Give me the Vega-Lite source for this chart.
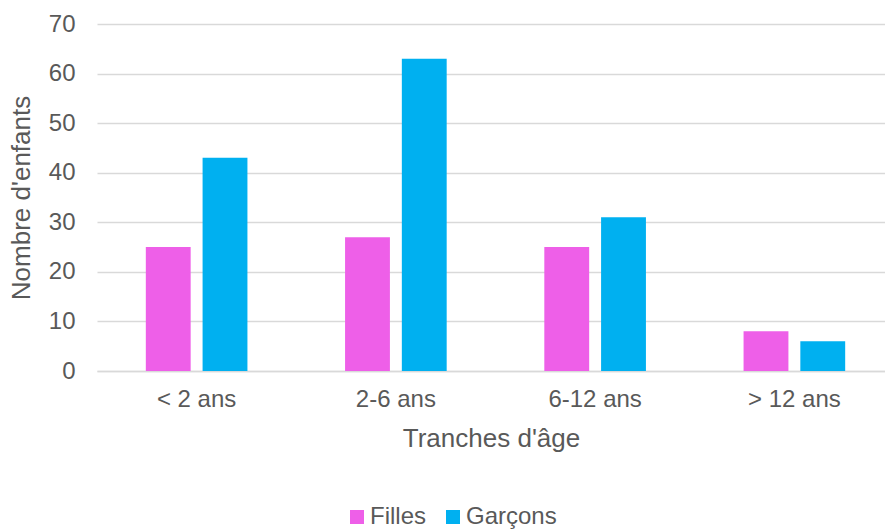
{
  "$schema": "https://vega.github.io/schema/vega-lite/v6.json",
  "width": 797,
  "height": 347,
  "autosize": {"type": "none"},
  "padding": {"left": 97, "top": 24, "right": 0, "bottom": 160},
  "background": "white",
  "config": {
    "font": "Liberation Sans",
    "view": {"stroke": null},
    "axis": {"labelColor": "#595959", "titleColor": "#595959", "labelFont": "Liberation Sans", "titleFont": "Liberation Sans", "titleFontWeight": "normal"},
    "legend": {"labelColor": "#595959", "labelFont": "Liberation Sans"}
  },
  "data": {
    "values": [
      {"tranche": "< 2 ans", "sexe": "Filles", "n": 25},
      {"tranche": "< 2 ans", "sexe": "Garçons", "n": 43},
      {"tranche": "2-6 ans", "sexe": "Filles", "n": 27},
      {"tranche": "2-6 ans", "sexe": "Garçons", "n": 63},
      {"tranche": "6-12 ans", "sexe": "Filles", "n": 25},
      {"tranche": "6-12 ans", "sexe": "Garçons", "n": 31},
      {"tranche": "> 12 ans", "sexe": "Filles", "n": 8},
      {"tranche": "> 12 ans", "sexe": "Garçons", "n": 6}
    ]
  },
  "mark": {"type": "bar"},
  "encoding": {
    "x": {
      "field": "tranche", "type": "nominal",
      "sort": ["< 2 ans", "2-6 ans", "6-12 ans", "> 12 ans"],
      "scale": {"paddingInner": 0.49, "paddingOuter": 0.245},
      "axis": {
        "title": "Tranches d'âge", "titleFontSize": 26, "titlePadding": 14, "titleX": 394,
        "labelFontSize": 24, "labelAngle": 0, "labelPadding": 16,
        "ticks": false, "domainColor": "#d9d9d9", "domainWidth": 1.5, "grid": false
      }
    },
    "xOffset": {
      "field": "sexe", "type": "nominal",
      "sort": ["Filles", "Garçons"],
      "scale": {"paddingInner": 0.21, "paddingOuter": 0}
    },
    "y": {
      "field": "n", "type": "quantitative",
      "scale": {"domain": [0, 70], "nice": false},
      "axis": {
        "title": "Nombre d'enfants", "titleFontSize": 26, "titlePadding": 14,
        "labelFontSize": 24, "labelPadding": 22, "values": [0, 10, 20, 30, 40, 50, 60, 70],
        "ticks": false, "domain": false,
        "grid": true, "gridColor": "#d9d9d9", "gridWidth": 1.5
      }
    },
    "color": {
      "field": "sexe", "type": "nominal",
      "sort": ["Filles", "Garçons"],
      "scale": {"domain": ["Filles", "Garçons"], "range": ["#EE5FE8", "#00B0F0"]},
      "legend": {
        "title": null, "orient": "none", "direction": "horizontal",
        "legendX": 248, "legendY": 481,
        "symbolType": "square", "symbolSize": 196, "symbolStrokeWidth": 0,
        "labelFontSize": 24, "labelOffset": 1, "columnPadding": 14
      }
    }
  }
}
